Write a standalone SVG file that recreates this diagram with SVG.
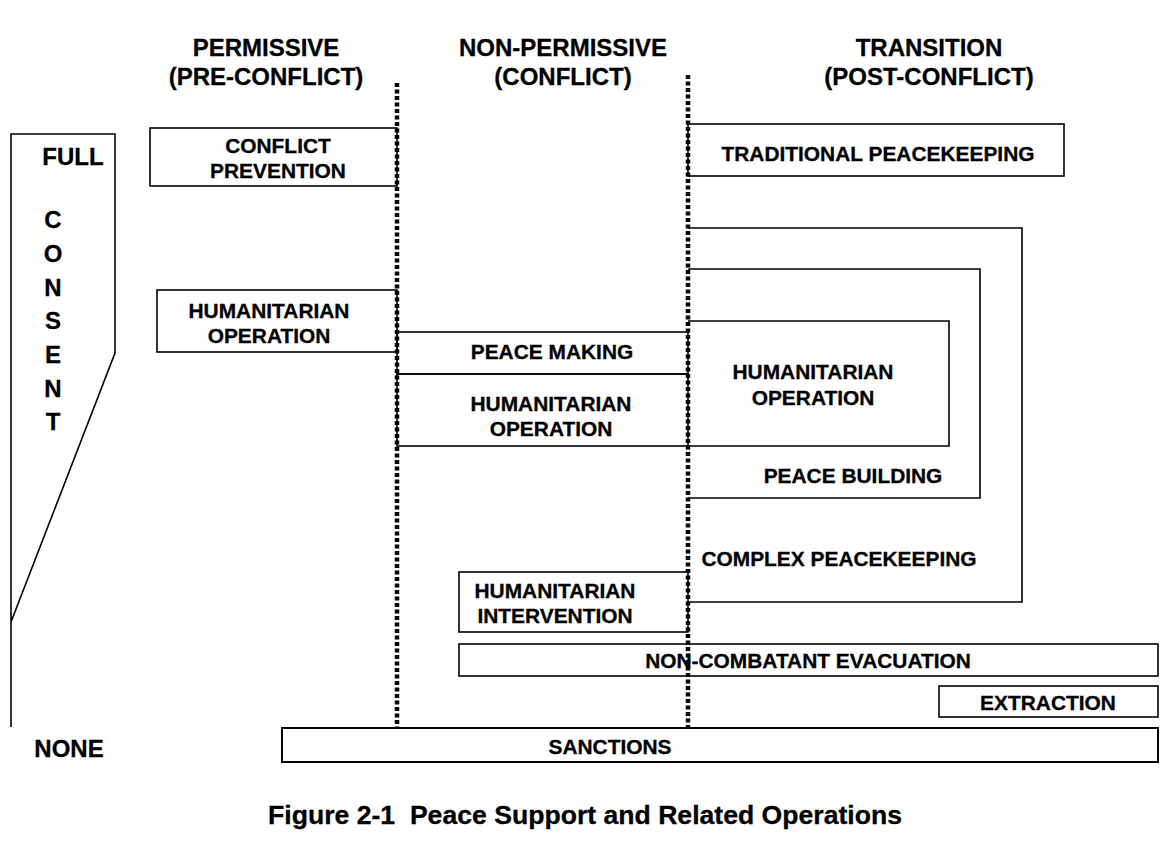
<svg xmlns="http://www.w3.org/2000/svg" width="1168" height="860" viewBox="0 0 1168 860">
<style>
  .box{fill:none;stroke:#000;stroke-width:1.6}
  .t{font-family:"Liberation Sans",Arial,sans-serif;font-weight:bold;font-size:20.9px;text-anchor:middle;fill:#000;stroke:#000;stroke-width:0.3}
  .h{font-family:"Liberation Sans",Arial,sans-serif;font-weight:bold;font-size:24px;text-anchor:middle;fill:#000;stroke:#000;stroke-width:0.3}
  .div{fill:none;stroke:#000;stroke-width:4.5;stroke-dasharray:4 2.5}
</style>
<rect width="1168" height="860" fill="#fff"/>
<g id="headers">
  <text class="h" x="266" y="56">PERMISSIVE</text>
  <text class="h" x="266" y="85">(PRE-CONFLICT)</text>
  <text class="h" x="563" y="56">NON-PERMISSIVE</text>
  <text class="h" x="563" y="85">(CONFLICT)</text>
  <text class="h" x="929" y="56">TRANSITION</text>
  <text class="h" x="929" y="85">(POST-CONFLICT)</text>
</g>
<g id="consent">
  <path class="box" d="M11,727 V134 H115 V353 L11,622"/>
  <text class="h" x="73" y="165">FULL</text>
  <text class="h" x="53" y="228">C</text>
  <text class="h" x="53" y="262">O</text>
  <text class="h" x="53" y="296">N</text>
  <text class="h" x="53" y="329">S</text>
  <text class="h" x="53" y="363">E</text>
  <text class="h" x="53" y="397">N</text>
  <text class="h" x="53" y="430">T</text>
  <text class="h" x="69" y="757">NONE</text>
</g>
<g id="conflict-prevention">
  <rect class="box" x="150" y="128" width="247" height="58"/>
  <text class="t" x="278" y="153">CONFLICT</text>
  <text class="t" x="278" y="178">PREVENTION</text>
</g>
<g id="traditional-peacekeeping">
  <rect class="box" x="688" y="124" width="376" height="52"/>
  <text class="t" x="878" y="161">TRADITIONAL PEACEKEEPING</text>
</g>
<g id="complex-peacekeeping">
  <path class="box" d="M688,228 H1022 V602 H688"/>
  <text class="t" x="839" y="566">COMPLEX PEACEKEEPING</text>
</g>
<g id="peace-building">
  <path class="box" d="M688,269 H980 V498 H688"/>
  <text class="t" x="853" y="483">PEACE BUILDING</text>
</g>
<g id="humanitarian-operation-transition">
  <path class="box" d="M688,321 H949 V446 H688"/>
  <text class="t" x="813" y="379">HUMANITARIAN</text>
  <text class="t" x="813" y="405">OPERATION</text>
</g>
<g id="humanitarian-operation-permissive">
  <rect class="box" x="157" y="290" width="240" height="62"/>
  <text class="t" x="269" y="318">HUMANITARIAN</text>
  <text class="t" x="269" y="343">OPERATION</text>
</g>
<g id="peace-making">
  <rect class="box" x="397" y="332" width="291" height="42"/>
  <text class="t" x="552" y="359">PEACE MAKING</text>
</g>
<g id="humanitarian-operation-conflict">
  <rect class="box" x="397" y="374" width="291" height="72"/>
  <text class="t" x="551" y="411">HUMANITARIAN</text>
  <text class="t" x="551" y="436">OPERATION</text>
</g>
<g id="humanitarian-intervention">
  <rect class="box" x="459" y="572" width="229" height="60"/>
  <text class="t" x="555" y="598">HUMANITARIAN</text>
  <text class="t" x="555" y="623">INTERVENTION</text>
</g>
<g id="non-combatant-evacuation">
  <rect class="box" x="459" y="644" width="699" height="32"/>
  <text class="t" x="808" y="668">NON-COMBATANT EVACUATION</text>
</g>
<g id="extraction">
  <rect class="box" x="939" y="686" width="219" height="31"/>
  <text class="t" x="1048" y="710">EXTRACTION</text>
</g>
<g id="sanctions">
  <rect class="box" x="282" y="728" width="876" height="34" style="stroke-width:2"/>
  <text class="t" x="610" y="754">SANCTIONS</text>
</g>
<g id="connectors">
  <line class="div" x1="397" y1="83" x2="397" y2="727"/>
  <line class="div" x1="688" y1="75" x2="688" y2="727"/>
</g>
<g id="caption">
  <text class="h" x="585" y="824" style="font-size:26.6px">Figure 2-1&#160; Peace Support and Related Operations</text>
</g>
</svg>
